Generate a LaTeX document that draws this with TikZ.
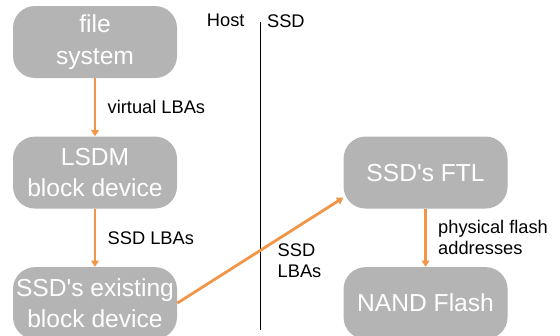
\documentclass[tikz,border=0pt]{standalone}
\usepackage{fontspec}
\setmainfont{Liberation Sans}[Ligatures=TeXOff]
\usepackage{tikz}
\usetikzlibrary{positioning,arrows.meta}
\definecolor{boxgray}{RGB}{180,180,180}
\definecolor{flowor}{RGB}{241,150,72}

\begin{document}
\begin{tikzpicture}[layer/.style={fill=boxgray,text=white,rounded corners=0.55cm,minimum width=4.1cm,minimum height=1.8cm,align=center,inner sep=0pt,font=\fontsize{17.5}{22.5}\selectfont},
	flow/.style={draw=flowor,line width=2pt,-{Triangle[length=4.5pt,width=5.5pt]}},
	lbl/.style={inner sep=0pt,align=left,font=\fontsize{13}{15}\selectfont}]

\useasboundingbox (0,0) rectangle (14,-8.4);

\node[layer] (fs) at (2.375,-1.05) {file\\system};
\node[layer,below=1.45cm of fs] (lsdm) {LSDM\\block device};
\node[layer,below=1.45cm of lsdm] (blk) {SSD's existing\\block device};
\node[layer,right=4.15cm of lsdm] (ftl) {SSD's FTL};
\node[layer,below=1.45cm of ftl] (nand) {NAND Flash};

%host / ssd split
\coordinate (divtop) at (6.5,-0.55);
\coordinate (divbot) at (6.5,-8.25);
\draw[line width=0.6pt] (divtop) -- (divbot);
\node[lbl,anchor=east] (host) at (6.12,-0.52) {Host};
\node[lbl,anchor=west] (ssd) at (6.67,-0.52) {SSD};

\draw[flow] (fs) -- node[lbl,midway,right=8pt] {virtual LBAs} (lsdm);
\draw[flow] (lsdm) -- node[lbl,midway,right=8pt] {SSD LBAs} (blk);
\draw[flow] (blk.east) -- node[lbl,midway,anchor=north west,xshift=0.4cm,yshift=0.2cm] {SSD\\LBAs} (ftl.197);
\draw[flow] (ftl) -- node[lbl,midway,right=8pt] {physical flash\\addresses} (nand);

\end{tikzpicture}
\end{document}
